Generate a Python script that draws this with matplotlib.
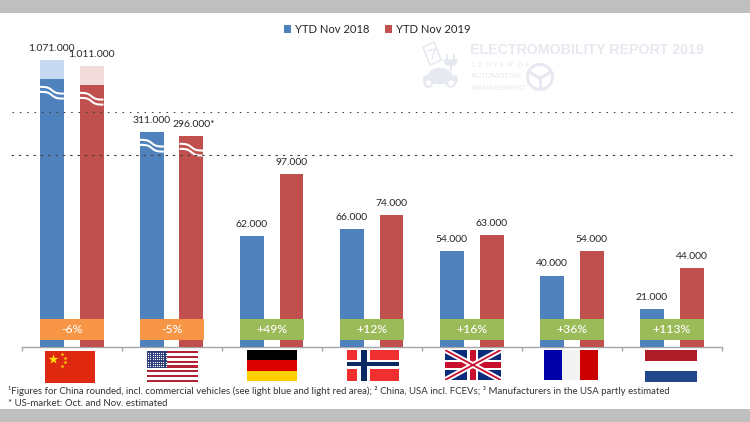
import numpy as np
import matplotlib
matplotlib.use("Agg")
import matplotlib.pyplot as plt
from matplotlib.patches import Rectangle, Polygon, Circle, FancyBboxPatch, Ellipse

# ---- data ----
countries = ["China", "USA", "Germany", "Norway", "UK", "France", "Netherlands"]
ytd_2018 = [1071000, 311000, 62000, 66000, 54000, 40000, 21000]
ytd_2019 = [1011000, 296000, 97000, 74000, 63000, 54000, 44000]
solid_2018 = [873000, 311000, 62000, 66000, 54000, 40000, 21000]   # without commercial vehicles (estimated)
solid_2019 = [809000, 296000, 97000, 74000, 63000, 54000, 44000]
label_suffix_2019 = ["", "*", "", "", "", "", ""]
changes = ["-6%", "-5%", "+49%", "+12%", "+16%", "+36%", "+113%"]
broken = ["China", "USA"]
series_names = ["YTD Nov 2018", "YTD Nov 2019"]
footnote_1 = ("¹Figures for China rounded, incl. commercial vehicles (see light blue and light red area); "
              "² China, USA incl. FCEVs; ³ Manufacturers in the USA partly estimated")
footnote_2 = "* US-market: Oct. and Nov. estimated"

# broken y axis: value -> pixel height above the baseline
scale_vals = [0, 100000, 296000, 311000, 1011000, 1071000, 2000000]
scale_px = [0, 177.5, 210.5, 214.5, 280.5, 286.5, 374]

BLUE, RED = "#4F81BD", "#C0504D"
LBLUE, LRED = "#C6D9F1", "#F2DCDB"
ORANGE, GREEN = "#F79646", "#9BBB59"
FONT = ["Lato", "DejaVu Sans"]
W, H = 750, 422

fig = plt.figure(figsize=(7.5, 4.22), dpi=100, facecolor="white")
base_y, top_y, left_x, right_x = 346.5, 14, 21.7, 721.7
ax = fig.add_axes([left_x / W, 1 - base_y / H, (right_x - left_x) / W, (base_y - top_y) / H])
ax.set_facecolor("none")
ax.set_yscale("function", functions=(lambda v: np.interp(v, scale_vals, scale_px),
                                     lambda p: np.interp(p, scale_px, scale_vals)))
ax.set_xlim(0, len(countries))
ax.set_ylim(0, np.interp(base_y - top_y, scale_px, scale_vals))

x = np.arange(len(countries)) + 0.5
bw, off = 0.24, 0.198
ax.bar(x - off, ytd_2018, bw, color=LBLUE, zorder=2)
ax.bar(x + off, ytd_2019, bw, color=LRED, zorder=2)
b1 = ax.bar(x - off, solid_2018, bw, color=BLUE, zorder=3, label=series_names[0])
b2 = ax.bar(x + off, solid_2019, bw, color=RED, zorder=3, label=series_names[1])

for s in ["top", "left", "right"]:
    ax.spines[s].set_visible(False)
ax.spines["bottom"].set_color("#A6A6A6")
ax.spines["bottom"].set_linewidth(1.0)
ax.set_xticks(np.arange(len(countries) + 1))
ax.set_xticklabels([])
ax.tick_params(axis="x", length=3.2, width=1.0, color="#A6A6A6")
ax.yaxis.set_minor_locator(matplotlib.ticker.NullLocator())
ax.yaxis.set_major_locator(matplotlib.ticker.NullLocator())

def fmt(v):
    return f"{v:,}".replace(",", ".")

LBL = 7.5
for i, (a, b) in enumerate(zip(ytd_2018, ytd_2019)):
    ax.annotate(fmt(a), (x[i] - off, a), xytext=(0, 11.5), textcoords="offset pixels",
                ha="center", va="center", fontsize=LBL, family=FONT, color="#262626", zorder=6)
    dx = 2.5 if label_suffix_2019[i] else 0
    ax.annotate(fmt(b) + label_suffix_2019[i], (x[i] + off, b), xytext=(dx, 11.5), textcoords="offset pixels",
                ha="center", va="center", fontsize=LBL, family=FONT, color="#262626", zorder=6)

# legend
leg = ax.legend(handles=[b1, b2], loc="center", bbox_to_anchor=((377 - left_x) / (right_x - left_x), (base_y - 29.5) / (base_y - top_y)),
                ncols=2, frameon=False, handlelength=0.68, handleheight=0.68, handletextpad=0.3,
                columnspacing=1.4, prop={"family": FONT, "size": 8.1}, labelcolor="#262626")

# ---- pixel overlay ----
ov = fig.add_axes([0, 0, 1, 1], zorder=5)
ov.set_xlim(0, W)
ov.set_ylim(H, 0)
ov.axis("off")
ov.patch.set_alpha(0)

# grey bands
ov.add_patch(Rectangle((0, 0), W, 12.7, color="#BFBFBF", lw=0))
ov.add_patch(Rectangle((0, 409), W, 13, color="#BFBFBF", lw=0))

# watermark
WM = "#E7E9F0"
ov.text(470, 50.5, "ELECTROMOBILITY REPORT 2019", fontsize=10.2, weight="bold", family="Liberation Sans",
        color=WM, va="center", ha="left")
ov.text(471, 65.5, "C E N T E R  O F", fontsize=5.6, family="Liberation Sans", color=WM, va="center")
ov.text(471, 77, "AUTOMOTIVE", fontsize=5.7, family="Liberation Sans", color=WM, va="center")
ov.text(471, 88.5, "MANAGEMENT", fontsize=5.5, family="Liberation Sans", color=WM, va="center")
ov.add_patch(Circle((540, 77), 12.5, fill=False, ec=WM, lw=2.2))
ov.plot([530.5, 540, 549.5], [73, 78, 73], color=WM, lw=2.2)
ov.plot([540, 540], [78, 88], color=WM, lw=2.2)
ov.add_patch(FancyBboxPatch((424, 76), 33, 7, boxstyle="round,pad=0.5,rounding_size=3", fc=WM, ec=WM, lw=0.5))
ov.add_patch(Ellipse((440, 76), 23, 15, fc=WM, ec=WM))
for cx in (428.5, 451):
    ov.add_patch(Circle((cx, 83), 3.8, fc="white", ec=WM, lw=1.5))
ov.add_patch(Polygon([[423, 47], [434, 42], [441, 60], [430, 65]], closed=True, fill=False, ec=WM, lw=1.2))
ov.plot([428, 435, 432], [51, 49, 59], color=WM, lw=1)
ov.add_patch(Polygon([[444, 60], [457, 60], [455, 65], [446, 65]], closed=True, fc=WM, ec=WM))
ov.plot([450.5, 450.5], [65, 70], color=WM, lw=1.5)
ov.plot([447, 447], [55, 60], color=WM, lw=1.5)
ov.plot([454, 454], [55, 60], color=WM, lw=1.5)

# change boxes
for i, c in enumerate(changes):
    col = ORANGE if c.startswith("-") else GREEN
    cx = left_x + 100 * (i + 0.5)
    ov.add_patch(Rectangle((cx - 32, 318.5), 63.8, 21.7, color=col, lw=0))
    ov.text(cx, 329.5, c, color="white", fontsize=8.8, family=FONT, ha="center", va="center", weight="medium")

# double white waves on broken bars
def px_top(xv, val):
    _, yd = ax.transData.transform((xv, val))
    return H - yd

fig.canvas.draw()
t = np.linspace(-1, 1, 40)
for i, name in enumerate(countries):
    if name not in broken:
        continue
    for cx_d, val in ((x[i] - off, solid_2018[i]), (x[i] + off, solid_2019[i])):
        cx = left_x + cx_d * 100
        top = px_top(cx_d, val)
        xs = cx + t * bw * 50
        wave = 3.4 * np.tanh(2.8 * t)
        for d in (11.2, 16.2):
            ov.plot(xs, top + d + wave, color="white", lw=1.5, solid_capstyle="butt")

# dashed guide lines
ov.plot([12, 734], [112, 112], color="#404040", lw=0.8, dashes=(1.4, 5.2))
ov.plot([11, 733], [155.3, 155.3], color="#404040", lw=0.8, dashes=(2.2, 4.4))

# ---- flags ----
def china(x0, y0, w, h):
    ov.add_patch(Rectangle((x0, y0), w, h, color="#DE2910", lw=0))
    ov.scatter([x0 + 8], [y0 + 7.5], marker="*", s=55, color="#FFDE00", lw=0)
    ov.scatter([x0 + 17, x0 + 20, x0 + 20, x0 + 17], [y0 + 3, y0 + 7, y0 + 10.5, y0 + 14.5],
               marker="*", s=9, color="#FFDE00", lw=0)

def usa(x0, y0, w, h):
    ov.add_patch(Rectangle((x0, y0), w, h, color="white", lw=0))
    sh = h / 13
    for k in range(0, 13, 2):
        ov.add_patch(Rectangle((x0, y0 + k * sh), w, sh, color="#B22234", lw=0))
    ov.add_patch(Rectangle((x0, y0), w * 0.4, sh * 7, color="#2A3A78", lw=0))
    gx, gy = np.meshgrid(np.linspace(x0 + 1.5, x0 + w * 0.4 - 1.5, 9), np.linspace(y0 + 1.5, y0 + sh * 7 - 1.5, 7))
    ov.scatter(gx.ravel(), gy.ravel(), s=0.8, color="white", lw=0)

def germany(x0, y0, w, h):
    for k, c in enumerate(["#000000", "#DD0000", "#FFCE00"]):
        ov.add_patch(Rectangle((x0, y0 + k * h / 3), w, h / 3, color=c, lw=0))

def norway(x0, y0, w, h):
    ov.add_patch(Rectangle((x0, y0), w, h, color="#F03030", lw=0))
    cx, cy = x0 + 16.4, y0 + 14
    ov.add_patch(Rectangle((cx - 6.5, y0), 13, h, color="white", lw=0))
    ov.add_patch(Rectangle((x0, cy - 4.5), w, 9, color="white", lw=0))
    ov.add_patch(Rectangle((cx - 3.2, y0), 6.4, h, color="#0B2A63", lw=0))
    ov.add_patch(Rectangle((x0, cy - 2.4), w, 4.8, color="#0B2A63", lw=0))

def uk(x0, y0, w, h):
    ov.add_patch(Rectangle((x0, y0), w, h, color="#0A2A7A", lw=0))
    x1, y1 = x0 + w, y0 + h
    clip = Rectangle((x0, y0), w, h, transform=ov.transData)
    for (a, b), col, lw in [(((x0, y0), (x1, y1)), "white", 4), (((x0, y1), (x1, y0)), "white", 4),
                            (((x0, y0), (x1, y1)), "#C8102E", 1.3), (((x0, y1), (x1, y0)), "#C8102E", 1.3)]:
        l, = ov.plot([a[0], b[0]], [a[1], b[1]], color=col, lw=lw, solid_capstyle="butt")
        l.set_clip_path(clip)
    cx, cy = x0 + w / 2, y0 + h / 2
    ov.add_patch(Rectangle((cx - 5.5, y0), 11, h, color="white", lw=0))
    ov.add_patch(Rectangle((x0, cy - 5), w, 10, color="white", lw=0))
    ov.add_patch(Rectangle((cx - 3, y0), 6, h, color="#C8102E", lw=0))
    ov.add_patch(Rectangle((x0, cy - 2.8), w, 5.6, color="#C8102E", lw=0))

def france(x0, y0, w, h):
    for k, c in enumerate(["#0000A8", "#F2F2F2", "#CC0000"]):
        ov.add_patch(Rectangle((x0 + k * w / 3, y0), w / 3, h, color=c, lw=0))

def netherlands(x0, y0, w, h):
    ov.add_patch(Rectangle((x0, y0), w, h / 3, color="#AE1C28", lw=0))
    ov.add_patch(Rectangle((x0, y0 + 2 * h / 3), w, h / 3, color="#21468B", lw=0))

flag_draw = {"China": (china, 45, 351, 50, 32), "USA": (usa, 146.7, 351, 51, 31), "Germany": (germany, 246.7, 350, 50.3, 31),
             "Norway": (norway, 347.3, 350, 52, 31), "UK": (uk, 445, 350, 55.7, 30), "France": (france, 544.3, 350, 53.7, 29.5),
             "Netherlands": (netherlands, 645.3, 350, 52, 32)}
for name in countries:
    fn, *geom = flag_draw[name]
    fn(*geom)

# footnotes
ov.text(7.5, 390.5, footnote_1, fontsize=6.9, family=FONT, color="#333333", va="center", ha="left")
ov.text(8, 403.5, footnote_2, fontsize=6.9, family=FONT, color="#333333", va="center", ha="left")

fig.savefig("out.png", dpi=100)
